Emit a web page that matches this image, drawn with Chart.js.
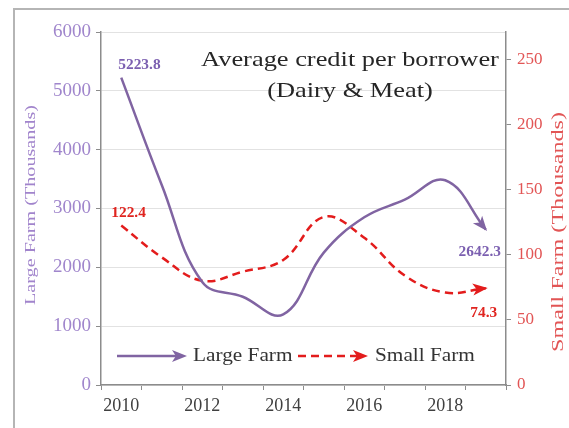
<!DOCTYPE html>
<html><head><meta charset="utf-8">
<script src="https://cdn.jsdelivr.net/npm/chart.js@4/dist/chart.umd.min.js"></script>
<style>
html,body{margin:0;padding:0;background:#fff;overflow:hidden;}
#frame{position:absolute;left:13px;top:8px;width:620px;height:460px;border-left:2px solid #b5b5b5;border-top:2px solid #b5b5b5;}
#wrap{position:absolute;left:0;top:0;width:569px;height:428px;}
</style></head><body>
<div id="frame"></div>
<div id="wrap"><canvas id="c" width="569" height="428"></canvas></div>
<script>
const years = ['2010','2011','2012','2013','2014','2015','2016','2017','2018','2019'];
const largeFarm = [5223.8, 3400, 1750, 1500, 1200, 2250, 2850, 3150, 3480, 2642.3];
const smallFarm = [122.4, 98, 80, 87, 96, 129, 113, 84, 71, 74.3];
const leftTicks = [0, 1000, 2000, 3000, 4000, 5000, 6000];
const rightTicks = [0, 50, 100, 150, 200, 250];
const titleLines = ['Average credit per borrower', '(Dairy & Meat)'];
const seriesNames = ['Large Farm', 'Small Farm'];
const leftTitle = 'Large Farm (Thousands)';
const rightTitle = 'Small Farm (Thousands)';

const PURPLE = '#8064a2';
const RED = '#e31c1c';
const SERIF = '"Liberation Serif", "Times New Roman", serif';

function drawArrow(ctx, x, y, ang, color, len, half) {
  ctx.save();
  ctx.translate(x, y);
  ctx.rotate(ang);
  ctx.fillStyle = color;
  ctx.beginPath();
  ctx.moveTo(2, 0);
  ctx.lineTo(-len, -half);
  ctx.lineTo(-len * 0.7, 0);
  ctx.lineTo(-len, half);
  ctx.closePath();
  ctx.fill();
  ctx.restore();
}

function sText(ctx, text, x, y, sx, align, rot) {
  ctx.save();
  ctx.translate(x, y);
  if (rot) ctx.rotate(rot);
  ctx.scale(sx, 1);
  ctx.textAlign = align;
  ctx.textBaseline = 'middle';
  ctx.fillText(text, 0, 0);
  ctx.restore();
}

const decor = {
  id: 'decor',
  afterDatasetsDraw(chart) {
    const ctx = chart.ctx;
    const colors = [PURPLE, RED];
    chart.data.datasets.forEach((ds, di) => {
      const pts = chart.getDatasetMeta(di).data;
      const last = pts[pts.length - 1];
      const prev = pts[pts.length - 2];
      let cx = last.cp1x, cy = last.cp1y;
      if (cx === undefined || (Math.abs(cx - last.x) < 0.5 && Math.abs(cy - last.y) < 0.5)) { cx = prev.x; cy = prev.y; }
      const ang = Math.atan2(last.y - cy, last.x - cx);
      drawArrow(ctx, last.x, last.y, ang, colors[di], 13, 6);
    });
    const m0 = chart.getDatasetMeta(0).data, m1 = chart.getDatasetMeta(1).data;
    const n0 = m0.length - 1, n1 = m1.length - 1;
    ctx.save();
    ctx.font = 'bold 14px ' + SERIF;
    ctx.fillStyle = '#7b5fb0';
    sText(ctx, largeFarm[0].toFixed(1), m0[0].x - 3, m0[0].y - 12, 1.1, 'left');
    sText(ctx, largeFarm[n0].toFixed(1), m0[n0].x - 6, m0[n0].y + 23, 1.1, 'center');
    ctx.fillStyle = '#e0241f';
    sText(ctx, smallFarm[0].toFixed(1), m1[0].x - 10, m1[0].y - 12, 1.1, 'left');
    sText(ctx, smallFarm[n1].toFixed(1), m1[n1].x - 2, m1[n1].y + 25, 1.1, 'center');
    ctx.restore();
  },
  afterDraw(chart) {
    const ctx = chart.ctx;
    ctx.save();
    // title
    ctx.font = '22px ' + SERIF;
    ctx.fillStyle = '#262626';
    sText(ctx, titleLines[0], 350, 60, 1.2, 'center');
    sText(ctx, titleLines[1], 350, 91, 1.2, 'center');
    // legend
    const ly = 356;
    ctx.lineWidth = 2.5;
    ctx.strokeStyle = PURPLE;
    ctx.beginPath(); ctx.moveTo(117, ly); ctx.lineTo(177, ly); ctx.stroke();
    drawArrow(ctx, 185, ly, 0, PURPLE, 13, 6);
    ctx.strokeStyle = RED;
    ctx.setLineDash([8, 5]);
    ctx.beginPath(); ctx.moveTo(298, ly); ctx.lineTo(358, ly); ctx.stroke();
    ctx.setLineDash([]);
    drawArrow(ctx, 366, ly, 0, RED, 13, 6);
    ctx.font = '19px ' + SERIF;
    ctx.fillStyle = '#333';
    sText(ctx, seriesNames[0], 193, ly, 1.12, 'left');
    sText(ctx, seriesNames[1], 375, ly, 1.12, 'left');
    // axis titles
    ctx.font = '15.5px ' + SERIF;
    ctx.fillStyle = '#a184cc';
    sText(ctx, leftTitle, 31, 205, 1.3, 'center', -Math.PI / 2);
    ctx.font = '17px ' + SERIF;
    ctx.fillStyle = '#e25555';
    sText(ctx, rightTitle, 559, 232, 1.42, 'center', -Math.PI / 2);
    ctx.restore();
  }
};

const AX = '#8c8c8c';
new Chart(document.getElementById('c'), {
  type: 'line',
  data: {
    labels: years,
    datasets: [
      { label: seriesNames[0], data: largeFarm, yAxisID: 'y', borderColor: PURPLE, backgroundColor: PURPLE,
        borderWidth: 2.5, tension: 0.4, pointRadius: 0, fill: false },
      { label: seriesNames[1], data: smallFarm, yAxisID: 'y1', borderColor: RED, backgroundColor: RED,
        borderWidth: 2.5, borderDash: [8, 5], tension: 0.4, pointRadius: 0, fill: false }
    ]
  },
  options: {
    responsive: false,
    devicePixelRatio: 1,
    animation: false,
    layout: { padding: { left: 20, right: 5, top: 32, bottom: 0 } },
    plugins: { legend: { display: false }, tooltip: { enabled: false }, title: { display: false } },
    scales: {
      x: {
        type: 'category',
        offset: true,
        grid: { display: true, drawOnChartArea: false, drawTicks: true, tickLength: 5, offset: true, color: AX },
        border: { color: AX, width: 1.5 },
        ticks: { autoSkip: false, maxRotation: 0, minRotation: 0, padding: 5, color: '#404040',
          font: { family: SERIF, size: 18 },
          callback: (v, i) => (i % 2 === 0 ? years[i] : '') },
        afterFit: s => { s.height = 43; }
      },
      y: {
        position: 'left', min: 0, max: 6000,
        afterBuildTicks: s => { s.ticks = leftTicks.map(v => ({ value: v })); },
        grid: { color: '#e2e2e2', tickColor: AX, tickLength: 5, drawTicks: true },
        border: { color: AX, width: 1.5 },
        ticks: { padding: 5, color: '#a086cc', font: { family: SERIF, size: 19 }, callback: v => String(v) },
        afterFit: s => { s.width = 81; }
      },
      y1: {
        position: 'right', min: 0, max: 271,
        afterBuildTicks: s => { s.ticks = rightTicks.map(v => ({ value: v })); },
        grid: { drawOnChartArea: false, tickColor: AX, tickLength: 5, drawTicks: true },
        border: { color: AX, width: 1.5 },
        ticks: { padding: 6, color: '#e25555', font: { family: SERIF, size: 17 }, callback: v => String(v) },
        afterFit: s => { s.width = 58; }
      }
    }
  },
  plugins: [decor]
});
</script>
</body></html>
